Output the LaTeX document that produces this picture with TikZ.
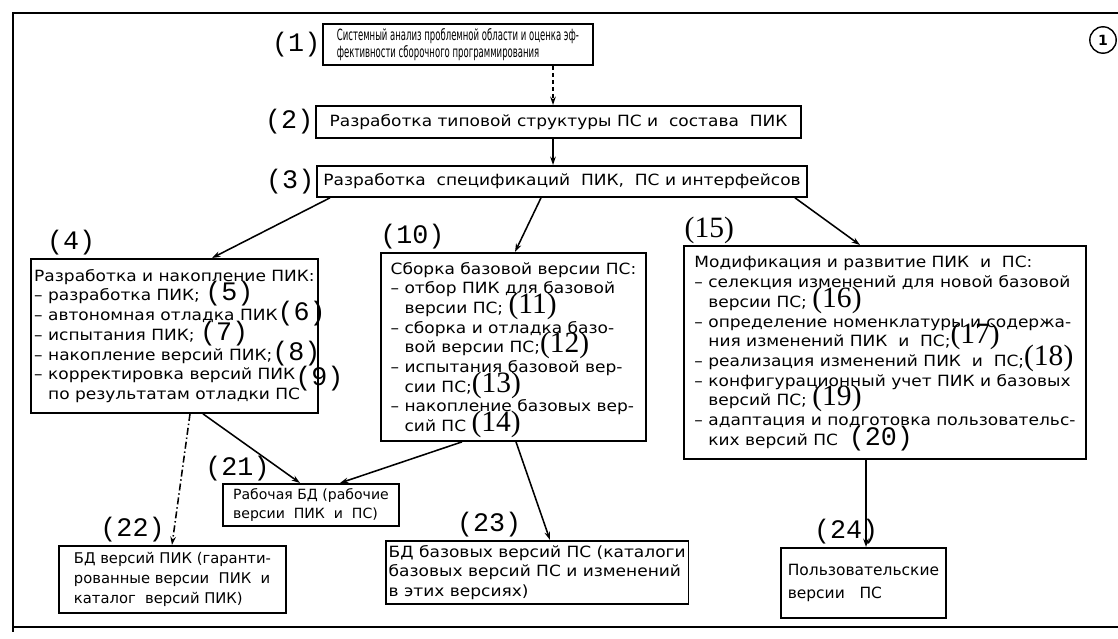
\documentclass[tikz,border=0pt]{standalone}
\usepackage{fontspec}
\setmainfont{DejaVu Sans}
\newfontfamily\widefont[FakeStretch=1.1]{DejaVu Sans}
\newfontfamily\narrowfont[FakeStretch=0.55]{DejaVu Sans}
\newfontfamily\monotag{Liberation Mono}
\newfontfamily\seriftag{Liberation Serif}
\usetikzlibrary{arrows.meta,positioning,calc}

% step numbers written into the box texts
\newcommand{\mtag}[2][0pt]{\rlap{\smash{\raisebox{#1}{\monotag\fontsize{19}{19}\selectfont(#2)}}}}
\newcommand{\stag}[2][0pt]{\rlap{\smash{\raisebox{#1}{\seriftag\fontsize{21}{21}\selectfont(#2)}}}}
\newcommand{\ind}{\phantom{– }}

\begin{document}
\begin{tikzpicture}[
  x=0.025cm, y=-0.025cm,
  font=\widefont\fontsize{11}{14}\selectfont,
  box/.style={draw, line width=1.3pt, anchor=north west, align=left, inner xsep=2pt, inner ysep=2pt},
  small/.style={font=\fontsize{10.5}{14}\selectfont},
  tag/.style={font=\monotag\fontsize{19}{19}\selectfont, inner sep=0pt},
  serifnum/.style={font=\seriftag\fontsize{21}{21}\selectfont, inner sep=0pt},
  arrow/.style={-{Stealth[length=6pt,width=4pt]}, line width=1.1pt},
  dasharrow/.style={arrow, dash pattern=on 3pt off 2pt},
  dotarrow/.style={arrow, dash pattern=on 5pt off 2pt on 1pt off 2pt},
  frame/.style={line width=1.6pt}
]
\useasboundingbox (0,0) rectangle (1118,638);

% outer frame and sheet number
\draw[frame] (1118,13) -- (13,13) -- (13,632);
\draw[frame] (13,627) -- (1118,627);
\node[circle, draw, line width=1pt, minimum size=0.66cm, inner sep=0pt, font=\bfseries] (sheet) at (1103,40) {1};

% top chain
\node[box, minimum width=6.75cm, minimum height=1.025cm,
  font=\narrowfont\fontsize{11}{12.5}\selectfont] (b1) at (322,23)
  {Системный анализ проблемной области и оценка эф-\\фективности сборочного программирования};
\node[box, minimum width=12.125cm, minimum height=0.8cm] (b2) at (315,105)
  {Разработка типовой структуры ПС и\ \ состава\ \ ПИК};
\node[box, minimum width=12.25cm, minimum height=0.775cm] (b3) at (316,165)
  {Разработка\ \ спецификаций\ \ ПИК,\ \ ПС и интерфейсов};
\node[tag, left=1pt of b1] (t1) {(1)};
\node[tag, left=1pt of b2] (t2) {(2)};
\node[tag, left=1pt of b3] (t3) {(3)};

% middle row
\node[box, minimum width=7.175cm, minimum height=3.85cm] (b4) at (30,258)
  {Разработка и накопление ПИК:\\
   – разработка ПИК; \mtag{5}\\
   – автономная отладка ПИК\mtag{6}\\
   – испытания ПИК; \mtag{7}\\
   – накопление версий ПИК;\mtag{8}\\
   – корректировка версий ПИК\mtag[-4pt]{9}\\
   \ind по результатам отладки ПС};
\node[box, minimum width=6.625cm, minimum height=4.7cm] (b10) at (380,252)
  {Сборка базовой версии ПС:\\
   – отбор ПИК для базовой\\
   \ind версии ПС; \stag{11}\\
   – сборка и отладка базо-\\
   \ind вой версии ПС;\stag{12}\\
   – испытания базовой вер-\\
   \ind сии ПС;\stag{13}\\
   – накопление базовых вер-\\
   \ind сий ПС \stag{14}};
\node[box, minimum width=10.05cm, minimum height=5.325cm] (b15) at (683,245)
  {Модификация и развитие ПИК\ \ и\ \ ПС:\\
   – селекция изменений для новой базовой\\
   \ind версии ПС; \stag{16}\\
   – определение номенклатуры и содержа-\\
   \ind ния изменений ПИК\ \ и\ \ ПС;\stag[2pt]{17}\\
   – реализация изменений ПИК\ \ и\ \ ПС;\stag[1pt]{18}\\
   – конфигурационный учет ПИК и базовых\\
   \ind версий ПС; \stag{19}\\
   – адаптация и подготовка пользовательс-\\
   \ind ких версий ПС\ \ \mtag{20}};
\node[tag, above right=2pt and 12pt of b4.north west] (t4) {(4)};
\node[tag, above right=2pt and 0pt of b10.north west] (t10) {(10)};
\node[serifnum, above right=1pt and 1pt of b15.north west] (t15) {(15)};

% bottom row
\node[box, small, font=\fontsize{10}{14}\selectfont, minimum width=4.4cm, minimum height=1.05cm] (b21) at (222,483)
  {Рабочая БД (рабочие\\версии\ \ ПИК\ \ и\ \ ПС)};
\node[box, small, minimum width=5.675cm, minimum height=1.675cm] (b22) at (58,545)
  {БД версий ПИК (гаранти-\\рованные версии\ \ ПИК\ \ и\\каталог\ \ версий ПИК)};
\node[box, minimum width=7.525cm, minimum height=1.575cm] (b23) at (385,540)
  {БД базовых версий ПС (каталоги\\базовых версий ПС и изменений\\в этих версиях)};
\node[box, font=\fontsize{11}{17}\selectfont, minimum width=4.125cm, minimum height=1.75cm] (b24) at (780,547)
  {Пользовательские\\версии\ \ \ ПС};
\node[tag, above right=1pt and -12pt of b21.north west] (t21) {(21)};
\node[tag, above right=2pt and 30pt of b22.north west] (t22) {(22)};
\node[tag, above right=2pt and 51pt of b23.north west] (t23) {(23)};
\node[tag, above right=2pt and 24pt of b24.north west] (t24) {(24)};

% connectors
\draw[dasharrow] ($(b1.south west)+(231,0)$) -- ($(b2.north west)+(238,0)$);
\draw[arrow] ($(b2.south west)+(238,0)$) -- ($(b3.north west)+(237,0)$);
\draw[arrow] ($(b3.south west)+(14,0)$) -- ($(b4.north west)+(182,0)$);
\draw[arrow] ($(b3.south west)+(225,0)$) -- ($(b10.north west)+(135,0)$);
\draw[arrow] ($(b3.south west)+(479,0)$) -- ($(b15.north west)+(177,0)$);
\draw[arrow] ($(b4.south west)+(173,0)$) -- ($(b21.north west)+(78,0)$);
\draw[dotarrow] ($(b4.south west)+(160,0)$) -- ($(b22.north west)+(114,0)$);
\draw[arrow] ($(b10.south west)+(82,0)$) -- ($(b21.north west)+(118,0)$);
\draw[arrow] ($(b10.south west)+(136,0)$) -- ($(b23.north west)+(165,0)$);
\draw[arrow] ($(b15.south west)+(183,0)$) -- ($(b24.north west)+(86,0)$);

\end{tikzpicture}
\end{document}
